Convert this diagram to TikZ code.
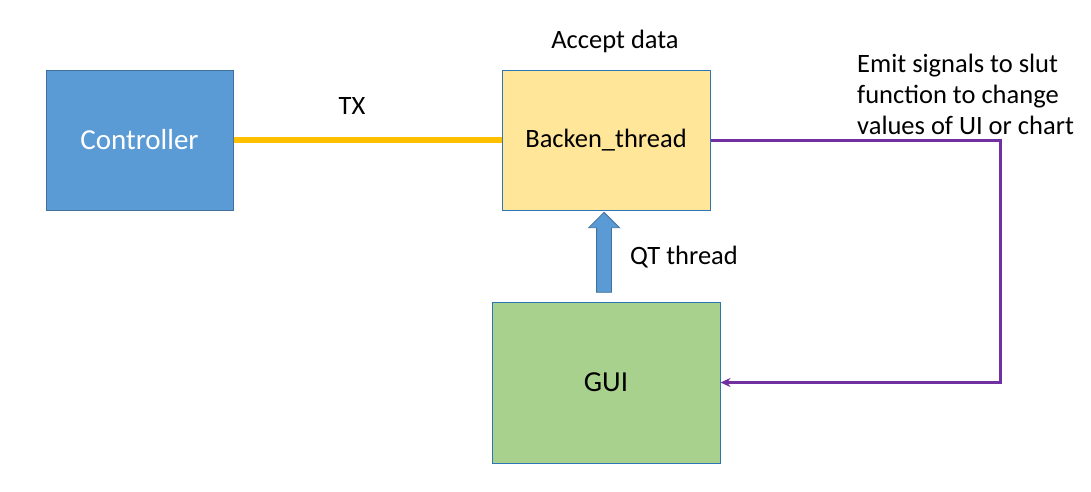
\documentclass[tikz,border=0pt]{standalone}
\usepackage{fontspec}
\setmainfont{Carlito}
\usetikzlibrary{positioning,calc,shapes.arrows,arrows.meta}
\definecolor{ctrlBlue}{HTML}{5B9BD5}
\definecolor{ctrlEdge}{HTML}{41719C}
\definecolor{boxEdge}{HTML}{2E75B6}
\definecolor{backenYellow}{HTML}{FFE699}
\definecolor{guiGreen}{HTML}{A9D18E}
\definecolor{txGold}{HTML}{FFC000}
\definecolor{sigPurple}{HTML}{7030A0}

\begin{document}
\begin{tikzpicture}[
                x=1pt, y=-1pt,
                blockbox/.style={draw=boxEdge, line width=1pt, inner sep=0pt,
                                 font=\fontsize{26.5}{31}\selectfont},
                lbl/.style={font=\fontsize{26.5}{31}\selectfont, inner sep=0pt},
                txline/.style={draw=txGold, line width=6pt},
                sigline/.style={draw=sigPurple, line width=3pt,
                                -{Stealth[length=10pt,width=9pt]}}
            ]
                \useasboundingbox (0,0) rectangle (1091,491);
                % boxes
                \node[blockbox, draw=ctrlEdge, fill=ctrlBlue, text=white,
                      minimum width=187pt, minimum height=140pt,
                      font=\fontsize{29}{34}\selectfont] (ctrl) at (139.5,140) {Controller};
                \node[blockbox, fill=backenYellow,
                      minimum width=208pt, minimum height=140pt] (backen) at (606,140) {Backen\_thread};
                \node[blockbox, fill=guiGreen,
                      minimum width=228pt, minimum height=161pt,
                      font=\fontsize{29}{34}\selectfont] (gui) at (606,382.5) {GUI};
                % labels
                \node[lbl] (tx) at (352,106) {TX};
                \node[lbl] (accept) at (615,41) {Accept data};
                \node[lbl] (qt) at (684,257) {QT thread};
                \node[lbl, anchor=north west, align=left] (emit) at (857,54)
                      {Emit signals to slut\\function to change\\values of UI or chart};
                % connectors
                \draw[txline] (ctrl.east) -- (backen.west);
                \node[single arrow, rotate=90, draw=ctrlEdge, fill=ctrlBlue, line width=0.8pt,
                      inner sep=7pt, minimum height=80pt, single arrow head extend=8pt,
                      single arrow tip angle=90] (qtarrow)
                      at ($(backen.south)!0.5!(gui.north)+(-2,0)$) {};
                \coordinate (turn) at (1000,140);
                \draw[sigline] (backen.east) -- (backen.east -| turn) |- (gui.east);
            \end{tikzpicture}
\end{document}
